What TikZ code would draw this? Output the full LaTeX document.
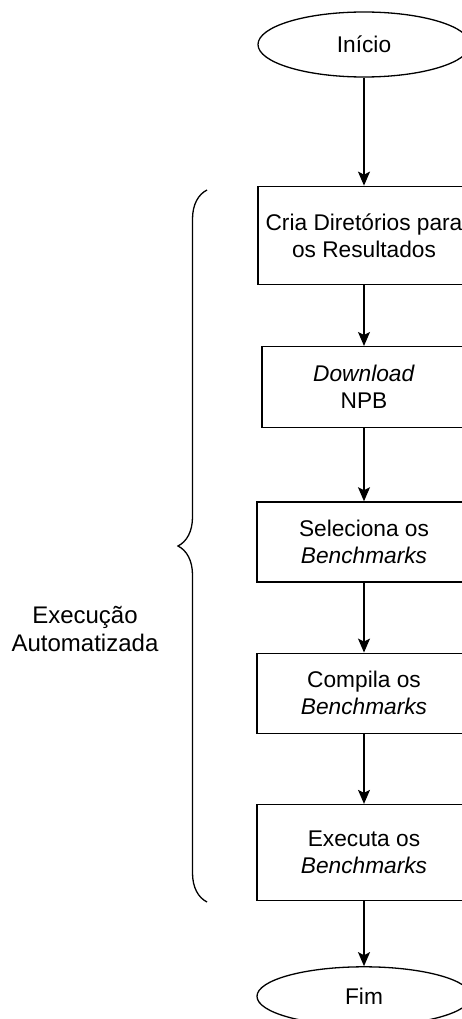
\documentclass[tikz,border=0pt]{standalone}
\usepackage{fontspec}
\setmainfont{Liberation Sans}
\usetikzlibrary{shapes.geometric, arrows.meta, positioning, decorations.pathreplacing}

\begin{document}
\begin{tikzpicture}[x=1pt, y=-1pt,
                    every node/.style={draw, align=center, inner sep=2pt,
                                       font=\fontsize{22.7}{27}\selectfont},
                    box/.style={rectangle, minimum width=214pt},
                    term/.style={ellipse, minimum width=212pt, minimum height=65pt, inner sep=0pt},
                    line width=1.3pt, >={Stealth[length=14pt, width=12pt, inset=3pt]}]

\useasboundingbox (0,0) rectangle (461,1019);

% Nodes
\node (inicio) [term] at (364,44.5) {Início};
\node (cria) [box, minimum width=212pt, minimum height=98pt, below=108pt of inicio] {Cria Diretórios para\\os Resultados};
\node (download) [box, minimum width=204pt, minimum height=81pt, below=61pt of cria] {\textit{Download}\\NPB};
\node (seleciona) [box, minimum height=80pt, below=73pt of download] {Seleciona os\\\textit{Benchmarks}};
\node (compila) [box, minimum height=80pt, below=70pt of seleciona] {Compila os\\\textit{Benchmarks}};
\node (executa) [box, minimum height=96pt, below=70pt of compila] {Executa os\\\textit{Benchmarks}};
\node (fim) [term, minimum width=214pt, minimum height=59pt, below=65pt of executa] {Fim};

% Brace and label
\coordinate (bracetop) at (207,190);
\coordinate (bracebot) at (207,902);
\draw [decorate, decoration={brace, amplitude=29pt}] (bracebot) -- (bracetop);
\node (auto) [draw=none, font=\fontsize{24}{28}\selectfont] at (85,629) {Execução\\Automatizada};

% Edges
\draw[->] (inicio) -- (cria);
\draw[->] (cria) -- (download);
\draw[->] (download) -- (seleciona);
\draw[->] (seleciona) -- (compila);
\draw[->] (compila) -- (executa);
\draw[->] (executa) -- (fim);

\end{tikzpicture}
\end{document}
